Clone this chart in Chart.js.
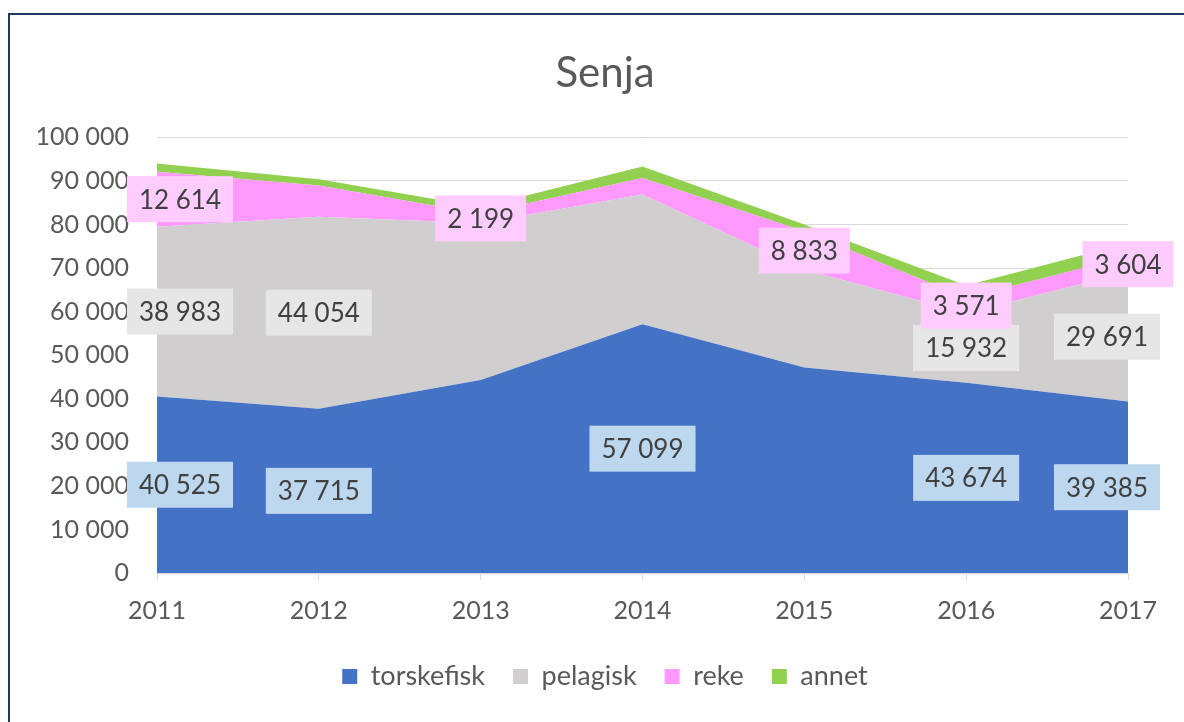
<!DOCTYPE html>
<html>
<head>
<meta charset="utf-8">
<script src="https://cdn.jsdelivr.net/npm/chart.js@4.4.1/dist/chart.umd.min.js"></script>
<style>
  html, body { margin:0; padding:0; background:#fff; overflow:hidden; }
  #wrap { position:relative; width:1184px; height:722px; }
  #frame { position:absolute; left:8px; top:13px; width:1200px; height:740px; border:2px solid #1f3864; box-sizing:border-box; }
  #c { position:absolute; left:0; top:0; }
</style>
</head>
<body>
<div id="wrap">
  <div id="frame"></div>
  <canvas id="c" width="1184" height="722"></canvas>
</div>
<script>
// Senja - fangst per art (tonn)
const years = ['2011','2012','2013','2014','2015','2016','2017'];
const torskefisk = [40525, 37715, 44300, 57099, 47200, 43674, 39385];
const pelagisk   = [38983, 44054, 36000, 29800, 22400, 15932, 29691];
const reke       = [12614, 7200, 2199, 3800, 8833, 3571, 3604];
const annet      = [1900, 1400, 1500, 2600, 1600, 2800, 3000];

// which points carry a value label in the original
const torskefiskShown = [true, true, false, true, false, true, true];
const pelagiskShown   = [true, true, false, false, false, true, true];
const rekeShown       = [true, false, true, false, true, true, true];
const annetShown      = [false, false, false, false, false, false, false];

const FONT = 'Lato, "Open Sans", sans-serif';
const TXT = '#595959';

function fmt(v){ return String(Math.round(v)).replace(/\B(?=(\d{3})+(?!\d))/g, ' '); }

const series = [
  { label:'torskefisk', data:torskefisk, shown:torskefiskShown, color:'#4472c4', box:'#bdd7ee' },
  { label:'pelagisk',   data:pelagisk,   shown:pelagiskShown,   color:'#d0cece', box:'#e7e6e6' },
  { label:'reke',       data:reke,       shown:rekeShown,       color:'#ff99ff', box:'#ffccff' },
  { label:'annet',      data:annet,      shown:annetShown,      color:'#92d050', box:'#d8efc4' }
];

const labelPlugin = {
  id:'areaLabels',
  afterDatasetsDraw(chart){
    const ctx = chart.ctx, y = chart.scales.y;
    const n = years.length;
    ctx.save();
    ctx.font = '26px ' + FONT;
    ctx.textAlign = 'center';
    ctx.textBaseline = 'middle';
    series.forEach((s, di)=>{
      const meta = chart.getDatasetMeta(di);
      s.data.forEach((v, i)=>{
        if (!s.shown[i]) return;
        let base = 0;
        for (let k=0;k<di;k++) base += series[k].data[i];
        let cx = meta.data[i].x;
        if (i === 0) cx += 23;
        if (i === n-1 && di < 2) cx -= 21;
        const cy = y.getPixelForValue(base + v/2);
        const t = fmt(v);
        const w = ctx.measureText(t).width + 24, h = 46;
        ctx.fillStyle = s.box;
        ctx.fillRect(cx - w/2, cy - h/2, w, h);
        ctx.fillStyle = '#404040';
        ctx.fillText(t, cx, cy + 1);
      });
    });
    ctx.restore();
  }
};

new Chart(document.getElementById('c'), {
  type:'line',
  data:{
    labels: years,
    datasets: series.map((s, i)=>({
      label:s.label, data:s.data,
      backgroundColor:s.color, borderColor:s.color, borderWidth:0,
      pointRadius:0, pointHoverRadius:0, tension:0,
      fill: i === 0 ? 'origin' : '-1'
    }))
  },
  options:{
    responsive:false, animation:false,
    layout:{ padding:{ left:30, right:4, top:0, bottom:22 } },
    plugins:{
      title:{ display:true, text:'Senja', color:TXT, font:{ family:FONT, size:42, weight:'normal' }, padding:{ top:48, bottom:39 } },
      legend:{ position:'bottom', labels:{ color:TXT, font:{ family:FONT, size:27 }, boxWidth:15, boxHeight:15, padding:28 } },
      tooltip:{ enabled:false }
    },
    scales:{
      x:{
        offset:false,
        grid:{ display:true, drawOnChartArea:false, drawTicks:true, tickLength:7, color:'#d9d9d9' },
        border:{ display:true, color:'#d9d9d9' },
        ticks:{ color:TXT, font:{ family:FONT, size:25 }, padding:16, maxRotation:0 },
        afterFit(s){ s.height = 62; }
      },
      y:{
        stacked:true, min:0, max:100000,
        grid:{ color:'#d9d9d9', drawTicks:false },
        border:{ display:false },
        ticks:{ stepSize:10000, color:TXT, font:{ family:FONT, size:25 }, padding:28, callback:(v)=>fmt(v) },
        afterFit(s){ s.width = 127; }
      },
      // empty spacer on the right so title and legend sit where Excel puts them
      y2:{
        position:'right', display:true,
        grid:{ display:false, drawTicks:false },
        border:{ display:false },
        ticks:{ display:false },
        afterFit(s){ s.width = 52; }
      }
    }
  },
  plugins:[labelPlugin]
});
</script>
</body>
</html>
